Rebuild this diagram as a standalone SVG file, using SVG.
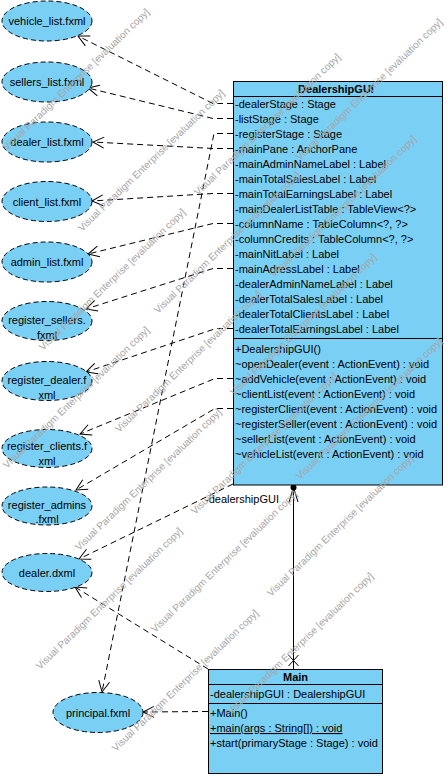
<svg xmlns="http://www.w3.org/2000/svg" width="447" height="777" viewBox="0 0 447 777">
<style>
text { font-family: "Liberation Sans", Arial, sans-serif; font-size: 11px; fill: #000; }
.box { fill: #7ACFF5; stroke: #000; stroke-width: 1; }
.sep { stroke: #000; stroke-width: 1; }
.title { font-weight: bold; text-anchor: middle; }
.art { fill: #7ACFF5; stroke: #000; stroke-width: 1; stroke-dasharray: 5 3; }
.lbl { text-anchor: middle; }
.dep { fill: none; stroke: #000; stroke-width: 1; stroke-dasharray: 6 4; marker-end: url(#open); }
.assoc { fill: none; stroke: #000; stroke-width: 1; }
.wm text { font-size: 10px; fill: #a6a6a6; }
</style>
<defs>
<marker id="open" markerUnits="userSpaceOnUse" markerWidth="16" markerHeight="16" viewBox="-13 -8 16 16" refX="0" refY="0" orient="auto" overflow="visible">
<path d="M-11,-5.5 L0,0 L-11,5.5" fill="none" stroke="#000" stroke-width="1" stroke-dasharray="none"/>
</marker>
</defs>
<rect width="447" height="777" fill="#fff"/>

<g id="connectors">
<path class="dep" d="M233,103.5 H213 L78,36"/>
<path class="dep" d="M233,118.5 H213 L88,88"/>
<path class="dep" d="M233,133.5 H214 L102,692"/>
<path class="dep" d="M233,148.5 H213 L93,142"/>
<path class="dep" d="M233,193.5 H213 L92,201"/>
<path class="dep" d="M233,223.5 H213 L88,254"/>
<path class="dep" d="M233,268.5 H213 L86,309"/>
<path class="dep" d="M233,328.5 H216 L86,372"/>
<path class="dep" d="M233,378.5 H215 L80,434"/>
<path class="dep" d="M233,408.5 H215 L76,490"/>
<path class="dep" d="M233,484 L79,559"/>
<path class="dep" d="M208,669 L75,587"/>
<path class="dep" d="M208,711.5 L143,712"/>
<g id="assoc-main-gui">
<line class="assoc" x1="293.5" y1="485" x2="293.5" y2="669"/>
<circle cx="293.5" cy="487.5" r="3" fill="#000"/>
<path class="assoc" d="M289,502 L293.5,487.5 L298,502"/>
<path class="assoc" d="M288.5,655 L298.5,666 M298.5,655 L288.5,666"/>
<text x="205" y="503">-dealershipGUI</text>
</g>
</g>

<g id="vehicle_list"><ellipse class="art" cx="47" cy="21" rx="45" ry="20"/><text class="lbl" x="47" y="25">vehicle_list.fxml</text></g>
<g id="sellers_list"><ellipse class="art" cx="47" cy="82" rx="45" ry="20"/><text class="lbl" x="47" y="86">sellers_list.fxml</text></g>
<g id="dealer_list"><ellipse class="art" cx="47" cy="142" rx="45" ry="20"/><text class="lbl" x="47" y="146">dealer_list.fxml</text></g>
<g id="client_list"><ellipse class="art" cx="47" cy="201.5" rx="45" ry="20"/><text class="lbl" x="47" y="205.5">client_list.fxml</text></g>
<g id="admin_list"><ellipse class="art" cx="47" cy="262" rx="45" ry="20"/><text class="lbl" x="47" y="266">admin_list.fxml</text></g>
<g id="register_sellers"><ellipse class="art" cx="47" cy="321" rx="45" ry="19.5"/><text class="lbl" x="47" y="324">register_sellers.</text><text class="lbl" x="47" y="339">fxml</text></g>
<g id="register_dealer"><ellipse class="art" cx="47" cy="381" rx="45" ry="19.5"/><text class="lbl" x="47" y="384">register_dealer.f</text><text class="lbl" x="47" y="399">xml</text></g>
<g id="register_clients"><ellipse class="art" cx="47" cy="448.5" rx="45" ry="19"/><text class="lbl" x="47" y="450">register_clients.f</text><text class="lbl" x="47" y="465">xml</text></g>
<g id="register_admins"><ellipse class="art" cx="47" cy="506" rx="45" ry="19"/><text class="lbl" x="47" y="509">register_admins</text><text class="lbl" x="47" y="523">.fxml</text></g>
<g id="dealer_dxml"><ellipse class="art" cx="47" cy="572.5" rx="45" ry="19"/><text class="lbl" x="47" y="576.5">dealer.dxml</text></g>
<g id="principal"><ellipse class="art" cx="98" cy="712.5" rx="45" ry="20"/><text class="lbl" x="98" y="716.5">principal.fxml</text></g>

<g id="DealershipGUI">
<rect class="box" x="233.5" y="81.5" width="209" height="403.5"/>
<line class="sep" x1="233.5" y1="96.5" x2="442.5" y2="96.5"/>
<line class="sep" x1="233.5" y1="338.5" x2="442.5" y2="338.5"/>
<text class="title" x="336" y="93">DealershipGUI</text>
<text x="235" y="108">-dealerStage : Stage</text>
<text x="235" y="123">-listStage : Stage</text>
<text x="235" y="138">-registerStage : Stage</text>
<text x="235" y="153">-mainPane : AnchorPane</text>
<text x="235" y="168">-mainAdminNameLabel : Label</text>
<text x="235" y="183">-mainTotalSalesLabel : Label</text>
<text x="235" y="198">-mainTotalEarningsLabel : Label</text>
<text x="235" y="213">-mainDealerListTable : TableView&lt;?&gt;</text>
<text x="235" y="228">-columnName : TableColumn&lt;?, ?&gt;</text>
<text x="235" y="243">-columnCredits : TableColumn&lt;?, ?&gt;</text>
<text x="235" y="258">-mainNitLabel : Label</text>
<text x="235" y="273">-mainAdressLabel : Label</text>
<text x="235" y="288">-dealerAdminNameLabel : Label</text>
<text x="235" y="303">-dealerTotalSalesLabel : Label</text>
<text x="235" y="318">-dealerTotalClientsLabel : Label</text>
<text x="235" y="333">-dealerTotalEarningsLabel : Label</text>
<text x="235" y="353">+DealershipGUI()</text>
<text x="235" y="368">~openDealer(event : ActionEvent) : void</text>
<text x="235" y="383">~addVehicle(event : ActionEvent) : void</text>
<text x="235" y="398">~clientList(event : ActionEvent) : void</text>
<text x="235" y="413">~registerClient(event : ActionEvent) : void</text>
<text x="235" y="428">~registerSeller(event : ActionEvent) : void</text>
<text x="235" y="443">~sellerList(event : ActionEvent) : void</text>
<text x="235" y="458">~vehicleList(event : ActionEvent) : void</text>
</g>

<g id="Main">
<rect class="box" x="208.5" y="669.5" width="174" height="104"/>
<line class="sep" x1="208.5" y1="684.5" x2="382.5" y2="684.5"/>
<line class="sep" x1="208.5" y1="703.5" x2="382.5" y2="703.5"/>
<text class="title" x="295.5" y="681">Main</text>
<text x="210" y="698">-dealershipGUI : DealershipGUI</text>
<text x="210" y="717">+Main()</text>
<text x="210" y="732" text-decoration="underline">+main(args : String[]) : void</text>
<text x="210" y="747">+start(primaryStage : Stage) : void</text>
</g>

<g id="watermark" class="wm">
<text transform="translate(7,151) rotate(-44)">Visual Paradigm Enterprise [evaluation copy]</text>
<text transform="translate(82,232) rotate(-44)">Visual Paradigm Enterprise [evaluation copy]</text>
<text transform="translate(43,351) rotate(-44)">Visual Paradigm Enterprise [evaluation copy]</text>
<text transform="translate(198,196) rotate(-44)">Visual Paradigm Enterprise [evaluation copy]</text>
<text transform="translate(7,469) rotate(-44)">Visual Paradigm Enterprise [evaluation copy]</text>
<text transform="translate(158,314) rotate(-44)">Visual Paradigm Enterprise [evaluation copy]</text>
<text transform="translate(300,161) rotate(-44)">Visual Paradigm Enterprise [evaluation copy]</text>
<text transform="translate(119,433) rotate(-44)">Visual Paradigm Enterprise [evaluation copy]</text>
<text transform="translate(274,278) rotate(-44)">Visual Paradigm Enterprise [evaluation copy]</text>
<text transform="translate(79,551) rotate(-44)">Visual Paradigm Enterprise [evaluation copy]</text>
<text transform="translate(234,396) rotate(-44)">Visual Paradigm Enterprise [evaluation copy]</text>
<text transform="translate(40,670) rotate(-44)">Visual Paradigm Enterprise [evaluation copy]</text>
<text transform="translate(195,515) rotate(-44)">Visual Paradigm Enterprise [evaluation copy]</text>
<text transform="translate(155,633) rotate(-44)">Visual Paradigm Enterprise [evaluation copy]</text>
<text transform="translate(300,480) rotate(-44)">Visual Paradigm Enterprise [evaluation copy]</text>
<text transform="translate(116,752) rotate(-44)">Visual Paradigm Enterprise [evaluation copy]</text>
<text transform="translate(271,597) rotate(-44)">Visual Paradigm Enterprise [evaluation copy]</text>
<text transform="translate(231,715) rotate(-44)">Visual Paradigm Enterprise [evaluation copy]</text>
</g>
</svg>
